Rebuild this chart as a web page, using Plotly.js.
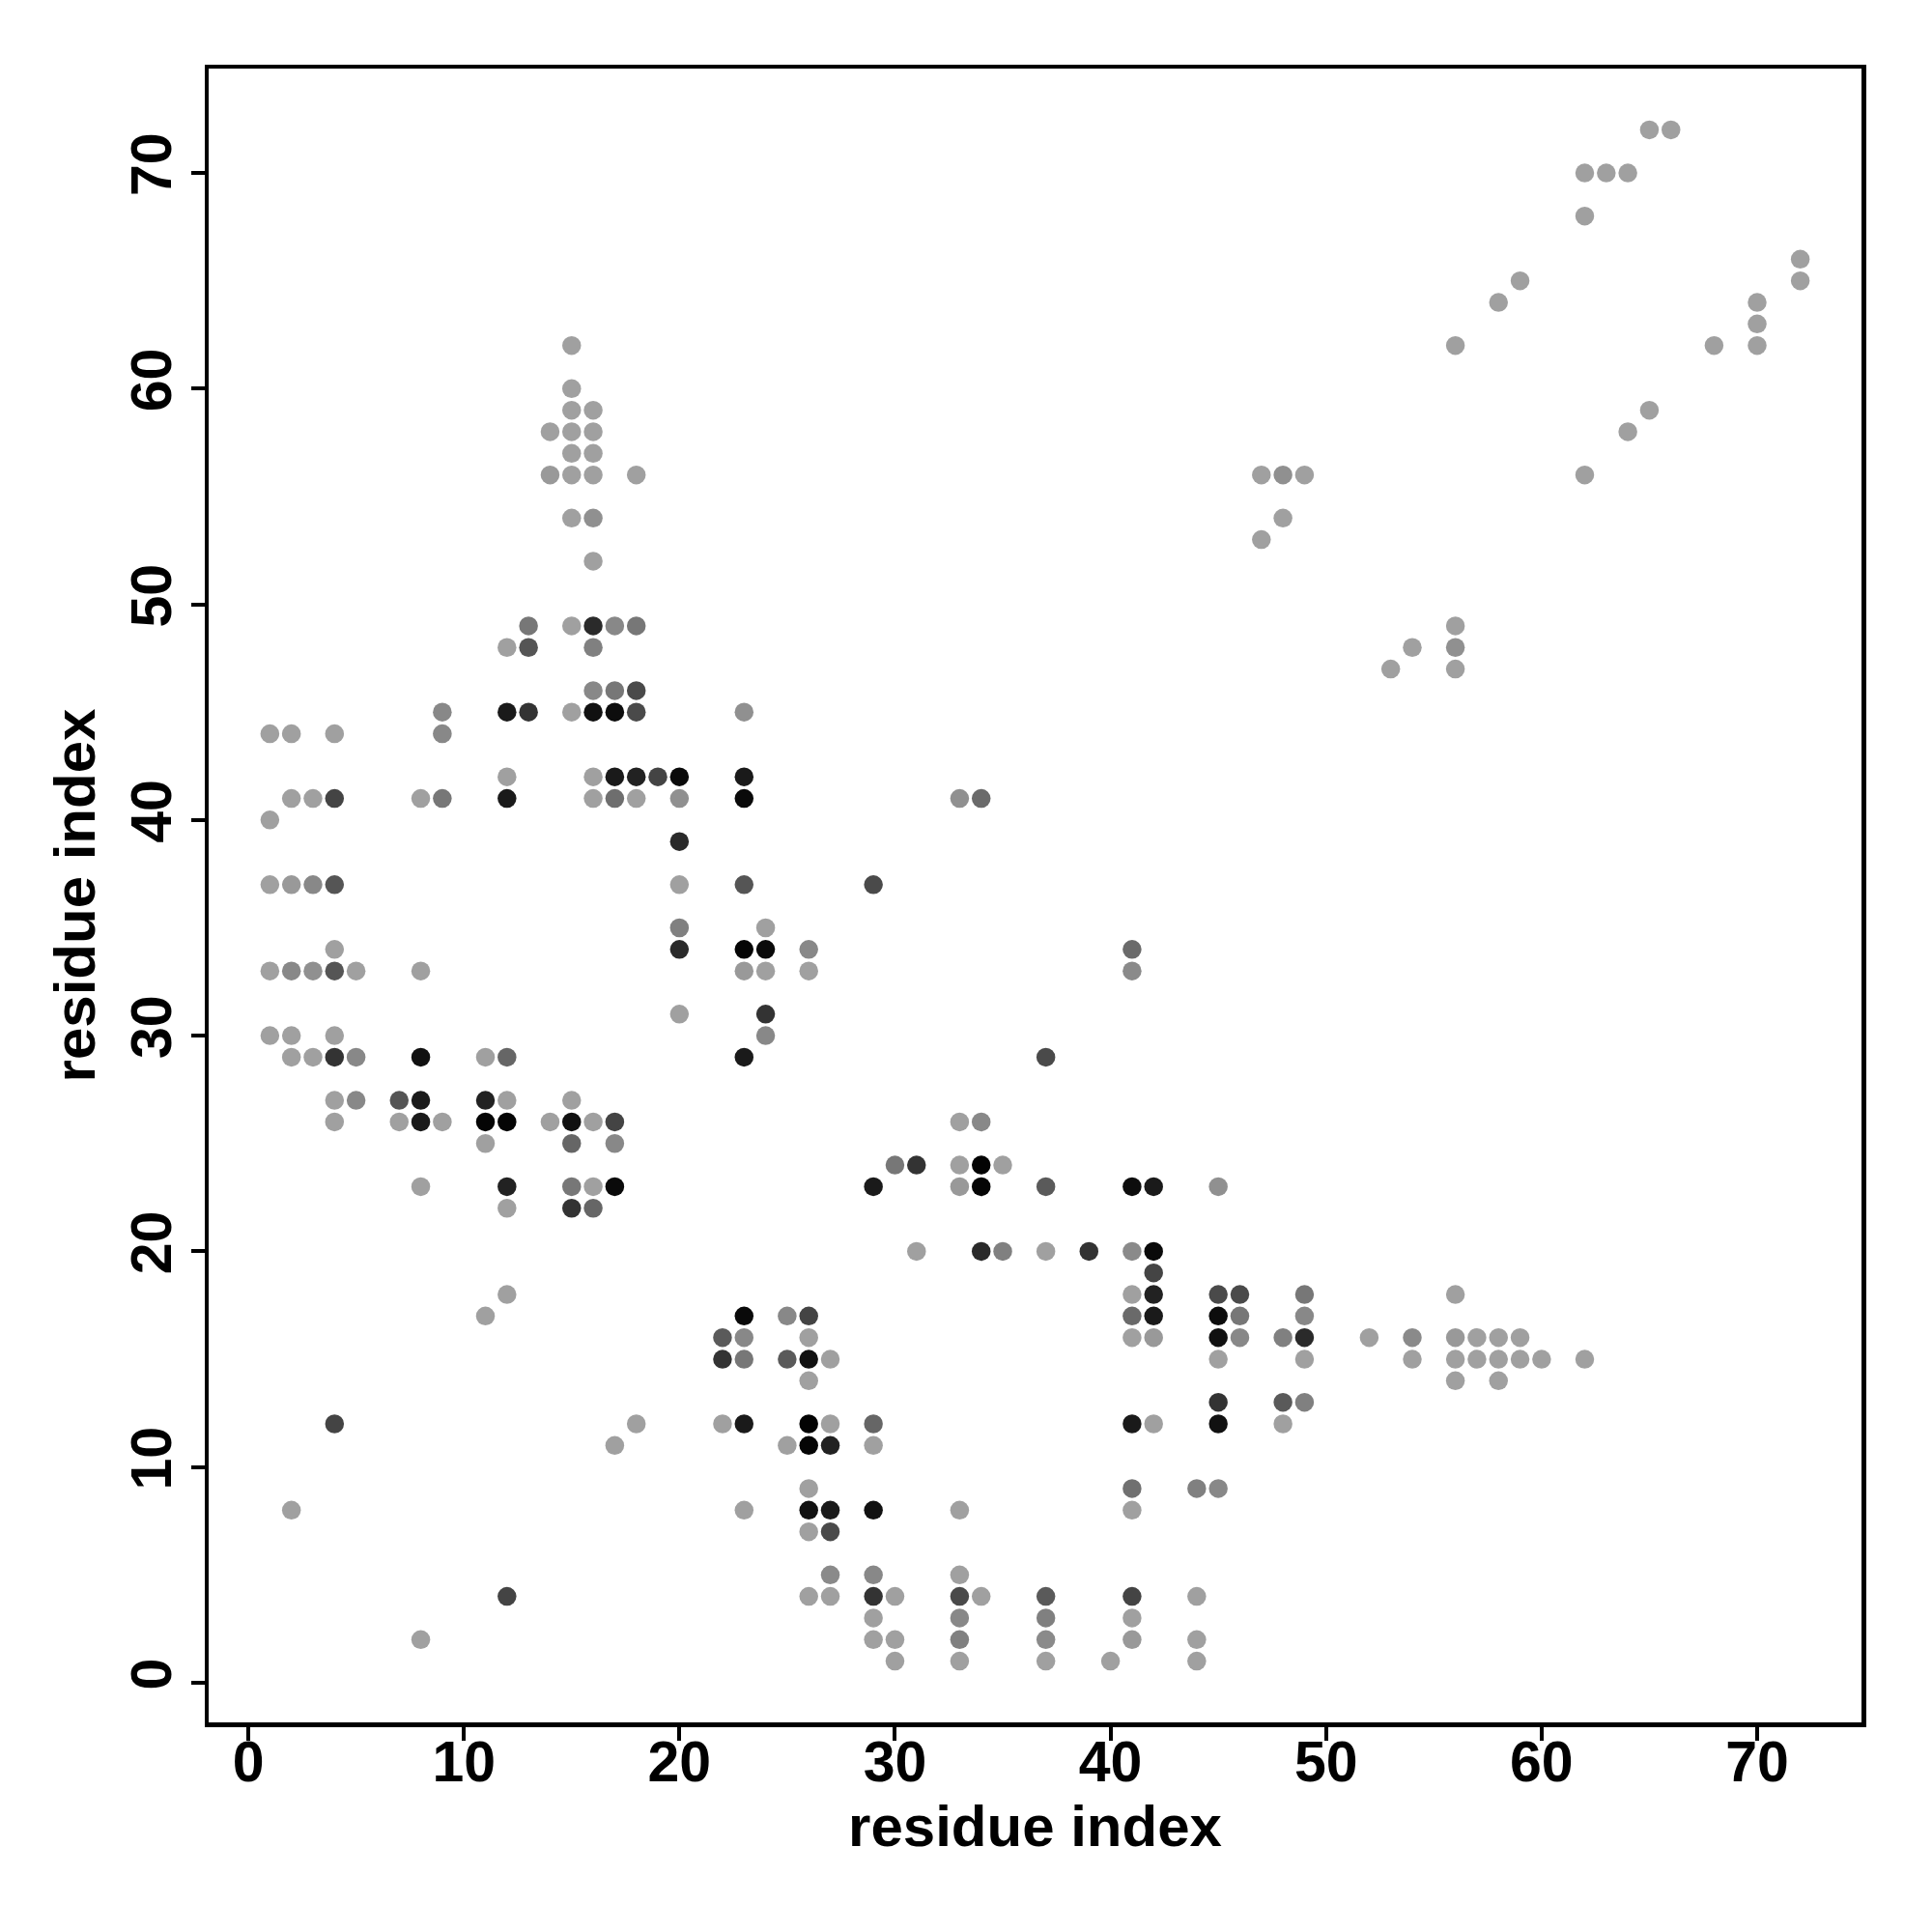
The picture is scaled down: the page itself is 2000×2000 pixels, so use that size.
<!DOCTYPE html>
<html>
<head>
<meta charset="utf-8">
<script src="https://cdn.plot.ly/plotly-3.0.1.min.js"></script>
<style>html,body{margin:0;padding:0;background:#fff;}#chart{width:2000px;height:2000px;}</style>
</head>
<body>
<div id="chart"></div>
<script>
// Contact points: residue i (x), residue j (y), grey level of the dot (0 = black, 160 = light grey)
const L = 160;
const rows = [
  [72, [65, 66], [L, L]],
  [70, [62, 63, 64], [L, L, L]],
  [68, [62], [L]],
  [66, [72], [L]],
  [65, [59, 72], [L, L]],
  [64, [58, 70], [L, L]],
  [63, [70], [L]],
  [62, [15, 56, 68, 70], [L, L, L, L]],
  [60, [15], [L]],
  [59, [15, 16, 65], [L, L, L]],
  [58, [14, 15, 16, 64], [L, L, L, L]],
  [57, [15, 16], [L, L]],
  [56, [14, 15, 16, 18, 47, 48, 49, 62], [153, L, L, L, L, 144, L, L]],
  [54, [15, 16, 48], [L, 144, L]],
  [53, [47], [L]],
  [52, [16], [L]],
  [49, [13, 15, 16, 17, 18, 56], [119, L, 42, 136, 119, L]],
  [48, [12, 13, 16, 54, 56], [L, 85, 128, L, 144]],
  [47, [53, 56], [L, L]],
  [46, [16, 17, 18], [136, 119, 74]],
  [45, [9, 12, 13, 15, 16, 17, 18, 23], [136, 26, 51, L, 17, 13, 74, 144]],
  [44, [1, 2, 4, 9], [L, L, L, 136]],
  [42, [12, 16, 17, 18, 19, 20, 23], [L, L, 26, 34, 68, 10, 26]],
  [41, [2, 3, 4, 8, 9, 12, 16, 17, 18, 20, 23, 33, 34], [L, L, 68, L, 119, 26, L, 110, L, 144, 10, 144, 106]],
  [40, [1], [L]],
  [39, [20], [42]],
  [37, [1, 2, 3, 4, 20, 23, 29], [L, 153, 136, 85, L, 85, 74]],
  [35, [20, 24], [128, L]],
  [34, [4, 20, 23, 24, 26, 41], [L, 42, 5, 10, 136, 106]],
  [33, [1, 2, 3, 4, 5, 8, 23, 24, 26, 41], [L, 136, 144, 85, L, L, 153, L, L, 138]],
  [31, [20, 24], [L, 51]],
  [30, [1, 2, 4, 24], [L, L, L, 136]],
  [29, [2, 3, 4, 5, 8, 11, 12, 23, 37], [L, L, 51, 136, 17, L, 102, 26, 74]],
  [27, [4, 5, 7, 8, 11, 12, 15], [L, 136, 85, 26, 34, L, L]],
  [26, [4, 7, 8, 9, 11, 12, 14, 15, 16, 17, 33, 34], [L, L, 26, L, 5, 5, L, 17, L, 68, L, 136]],
  [25, [11, 15, 17], [L, 102, 136]],
  [24, [30, 31, 33, 34, 35], [119, 51, L, 3, L]],
  [23, [8, 12, 15, 16, 17, 29, 33, 34, 37, 41, 42, 45], [L, 34, 119, L, 10, 26, 153, 5, 90, 13, 26, 144]],
  [22, [12, 15, 16], [L, 51, 102]],
  [20, [31, 34, 35, 37, 39, 41, 42], [L, 42, 128, L, 51, 138, 10]],
  [19, [42], [68]],
  [18, [12, 41, 42, 45, 46, 49, 56], [L, L, 34, 74, 74, 119, L]],
  [17, [11, 23, 25, 26, 41, 42, 45, 46, 49], [L, 10, 136, 68, 106, 26, 13, 119, 136]],
  [16, [22, 23, 26, 41, 42, 45, 46, 48, 49, 52, 54, 56, 57, 58, 59], [90, 136, L, L, 153, 17, 136, 128, 42, L, 138, 153, L, L, L]],
  [15, [22, 23, 25, 26, 27, 45, 49, 54, 56, 57, 58, 59, 60, 62], [51, 119, 90, 17, L, L, L, L, L, L, L, L, L, L]],
  [14, [26, 56, 58], [L, L, L]],
  [13, [45, 48, 49], [51, 90, 128]],
  [12, [4, 18, 22, 23, 26, 27, 29, 41, 42, 45, 48], [68, L, L, 26, 3, L, 102, 26, L, 17, L]],
  [11, [17, 25, 26, 27, 29], [L, L, 5, 34, L]],
  [9, [26, 41, 44, 45], [L, 112, 128, 136]],
  [8, [2, 23, 26, 27, 29, 33, 41], [L, L, 17, 26, 17, L, L]],
  [7, [26, 27], [L, 74]],
  [5, [27, 29, 33], [138, 136, L]],
  [4, [12, 26, 27, 29, 30, 33, 34, 37, 41, 44], [68, L, L, 51, L, 74, L, 90, 68, L]],
  [3, [29, 33, 37, 41], [L, 136, 128, L]],
  [2, [8, 29, 30, 33, 37, 41, 44], [L, L, L, 128, 138, 153, L]],
  [1, [30, 33, 37, 40, 44], [L, L, L, L, L]]
];

const xTicks = [0, 10, 20, 30, 40, 50, 60, 70];
const yTicks = [0, 10, 20, 30, 40, 50, 60, 70];

const xs = [], ys = [], greys = [];
rows.forEach(([y, xList, gList]) => {
  xList.forEach((x, k) => { xs.push(x); ys.push(y); greys.push(gList[k]); });
});
const colors = greys.map(g => `rgb(${g},${g},${g})`);

const tickFont = {family: 'Liberation Sans, Arial, sans-serif', size: 59, color: '#000', weight: 'bold'};
const titleFont = {family: 'Liberation Sans, Arial, sans-serif', size: 60, color: '#000', weight: 'bold'};

const axisBase = {
  range: [-1.84, 74.84],
  showgrid: false,
  zeroline: false,
  showline: true,
  linecolor: '#000',
  linewidth: 4.5,
  mirror: true,
  ticks: 'outside',
  ticklen: 14,
  tickwidth: 4,
  tickcolor: '#000',
  tickfont: tickFont
};

const trace = {
  type: 'scatter',
  mode: 'markers',
  x: xs,
  y: ys,
  marker: {size: 19.5, color: colors, line: {width: 0}},
  hoverinfo: 'x+y'
};

const layout = {
  width: 2000,
  height: 2000,
  paper_bgcolor: '#fff',
  plot_bgcolor: '#fff',
  showlegend: false,
  margin: {l: 216, r: 73, t: 71, b: 217},
  xaxis: Object.assign({}, axisBase, {
    tickvals: xTicks,
    ticktext: xTicks.map(String),
    ticklabelstandoff: -28,
    title: {text: 'residue index', font: titleFont, standoff: 14}
  }),
  yaxis: Object.assign({}, axisBase, {
    tickvals: yTicks,
    ticktext: yTicks.map(String),
    tickangle: -90,
    ticklabelstandoff: -3,
    title: {text: 'residue index', font: titleFont, standoff: 7}
  })
};

Plotly.newPlot('chart', [trace], layout, {displayModeBar: false, staticPlot: true});
</script>
</body>
</html>
